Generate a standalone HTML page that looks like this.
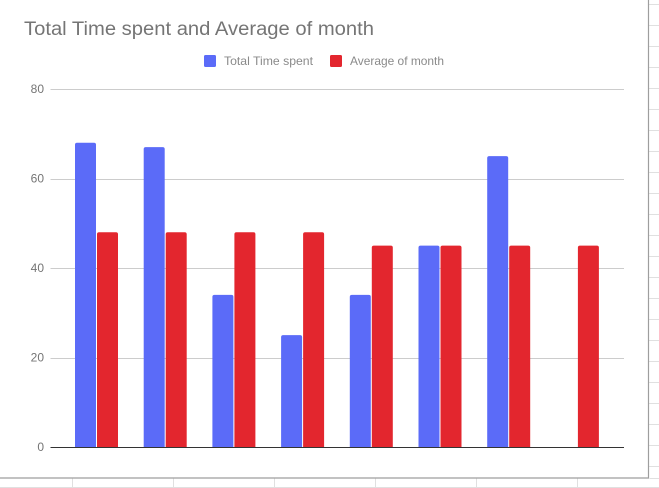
<!DOCTYPE html>
<html>
<head>
<meta charset="utf-8">
<title>Total Time spent and Average of month</title>
<style>
html,body{margin:0;padding:0;background:#fff;width:659px;height:488px;overflow:hidden}
svg{display:block;font-family:"Liberation Sans",sans-serif}
</style>
</head>
<body>
<svg id="chart" width="659" height="488" viewBox="0 0 659 488" xmlns="http://www.w3.org/2000/svg">
  <rect x="0" y="0" width="659" height="488" fill="#ffffff"/>
  <g id="sheet-grid"></g>
  <path d="M648.5 0V478H0" fill="none" stroke="#9e9e9e" stroke-width="1.2"/>
  <text x="24" y="35" font-size="19" fill="#757575" textLength="350" lengthAdjust="spacingAndGlyphs">Total Time spent and Average of month</text>
  <g>
    <g>
      <rect x="204" y="55" width="12" height="12" rx="1.5" fill="#5b6bf8"/>
      <text x="224" y="65" font-size="12" fill="#8a8a8a" textLength="89" lengthAdjust="spacingAndGlyphs">Total Time spent</text>
    </g>
    <g>
      <rect x="330" y="55" width="12" height="12" rx="1.5" fill="#e3262e"/>
      <text x="350" y="65" font-size="12" fill="#8a8a8a" textLength="94" lengthAdjust="spacingAndGlyphs">Average of month</text>
    </g>
  </g>
  <g id="gridlines"></g>
  <g id="y-ticks"></g>
  <g id="bars"></g>
  <line x1="50.5" x2="624" y1="447.5" y2="447.5" stroke="#333333" stroke-width="1"/>
</svg>
<script>
const categories = ['1', '2', '3', '4', '5', '6', '7', '8'];
const totalTimeSpent = [68, 67, 34, 25, 34, 45, 65, null];
const averageOfMonth = [48, 48, 48, 48, 45, 45, 45, 45];
const yTicks = [0, 20, 40, 60, 80];

const NS = 'http://www.w3.org/2000/svg';
const yMax = 80;
const plotTop = 89, plotBottom = 447;
const firstBarX = 75, groupStep = 68.7, barWidth = 21, barGap = 1;

function yScale(v) { return plotBottom - (v / yMax) * (plotBottom - plotTop); }
function xScale(i) { return firstBarX + i * groupStep; }

const gridG = document.getElementById('gridlines');
const tickG = document.getElementById('y-ticks');
yTicks.forEach(function (t) {
  if (t !== 0) {
    const l = document.createElementNS(NS, 'line');
    
    
    l.setAttribute('x1', 50.5);
    l.setAttribute('x2', 624);
    l.setAttribute('y1', Math.round(yScale(t)) + 0.5);
    l.setAttribute('y2', Math.round(yScale(t)) + 0.5);
    l.setAttribute('stroke', '#cccccc');
    l.setAttribute('stroke-width', 1);
    gridG.appendChild(l);
  }
  const txt = document.createElementNS(NS, 'text');
  
  
  txt.setAttribute('x', 44);
  txt.setAttribute('y', yScale(t) + 4);
  txt.setAttribute('text-anchor', 'end');
  txt.setAttribute('font-size', 12);
  txt.setAttribute('fill', '#757575');
  txt.textContent = t;
  tickG.appendChild(txt);
});

const barsG = document.getElementById('bars');
function drawBar(x, v, color, name) {
  const top = yScale(v), r = 2;
  const p = document.createElementNS(NS, 'path');
  
  
  p.setAttribute('d', 'M' + x + ' ' + plotBottom + 'V' + (top + r) + 'Q' + x + ' ' + top + ' ' + (x + r) + ' ' + top +
    'H' + (x + barWidth - r) + 'Q' + (x + barWidth) + ' ' + top + ' ' + (x + barWidth) + ' ' + (top + r) +
    'V' + plotBottom + 'Z');
  p.setAttribute('fill', color);
  barsG.appendChild(p);
}
categories.forEach(function (c, i) {
  if (totalTimeSpent[i] !== null) {
    drawBar(xScale(i), totalTimeSpent[i], '#5b6bf8', 'bar-total-time-' + c);
  }
  if (averageOfMonth[i] !== null) {
    drawBar(xScale(i) + barWidth + barGap, averageOfMonth[i], '#e3262e', 'bar-average-' + c);
  }
});

const sheetG = document.getElementById('sheet-grid');
function sheetLine(x1, y1, x2, y2) {
  const l = document.createElementNS(NS, 'line');
  
  
  l.setAttribute('x1', x1);
  l.setAttribute('y1', y1);
  l.setAttribute('x2', x2);
  l.setAttribute('y2', y2);
  l.setAttribute('stroke', '#e0e0e0');
  l.setAttribute('stroke-width', 1);
  sheetG.appendChild(l);
}
for (let y = 4.5; y < 478; y += 21) { sheetLine(649, y, 659, y); }
for (let x = 72.5; x < 648; x += 101) { sheetLine(x, 478, x, 488); }
sheetLine(0, 487.5, 659, 487.5);
sheetLine(649.5, 478.5, 659, 478.5);
</script>
</body>
</html>
